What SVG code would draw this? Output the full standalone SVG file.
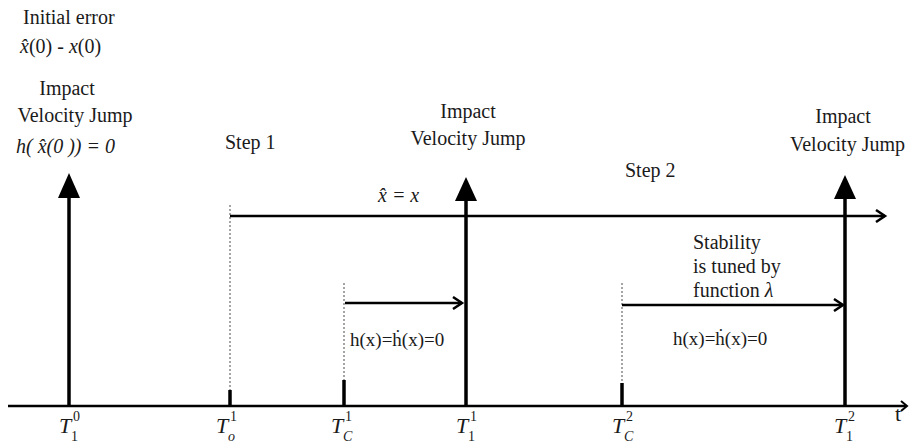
<svg xmlns="http://www.w3.org/2000/svg" width="910" height="443" viewBox="0 0 910 443" font-family="'Liberation Serif', 'Times New Roman', serif">
<defs>
<marker id="open" markerWidth="14" markerHeight="14" refX="11" refY="7" orient="auto" markerUnits="userSpaceOnUse">
<polyline points="2,1 11,7 2,13" fill="none" stroke="#000" stroke-width="2.5"/>
</marker>
</defs>
<style>
text{fill:#1a1a1a;font-size:20px}
.it{font-style:italic}
.c{text-anchor:middle}
.sm{font-size:19px}
.T{font-style:italic;font-size:22px}
.sup{font-size:14px;font-style:normal}
.axis{stroke:#000;stroke-width:2.5;fill:none}
.big{stroke:#000;stroke-width:3.5;fill:none}
.tick{stroke:#000;stroke-width:3.5}
.dash{stroke:#888;stroke-width:1.5;stroke-dasharray:2,2}
.h{stroke:#000;stroke-width:2.5;fill:none}
</style>

<g id="connectors">
<line class="axis" x1="8" y1="406" x2="906" y2="406"/>
<polyline points="901,401 907,406 901,411" fill="none" stroke="#000" stroke-width="2"/>
<line class="dash" x1="230" y1="205" x2="230" y2="390"/>
<line class="dash" x1="344" y1="283" x2="344" y2="380"/>
<line class="dash" x1="622" y1="283" x2="622" y2="383"/>
<line class="h" x1="230" y1="216" x2="885" y2="216" marker-end="url(#open)"/>
<line class="h" x1="345" y1="303" x2="462" y2="303" marker-end="url(#open)"/>
<line class="h" x1="622" y1="305" x2="843" y2="305" marker-end="url(#open)"/>
</g>

<g id="T10">
<line class="big" x1="69" y1="406" x2="69" y2="190"/>
<polygon points="69,173 80,198 58,198" fill="#000"/>
<text class="T" x="59" y="433">T</text>
<text class="sup" x="73" y="421">0</text>
<text class="sup" x="71" y="441">1</text>
</g>

<g id="To1">
<line class="tick" x1="230" y1="390" x2="230" y2="406"/>
<text class="T" x="216" y="433">T</text>
<text class="sup" x="230" y="421">1</text>
<text class="sup" x="228" y="441" style="font-style:italic">o</text>
</g>

<g id="Tc1">
<line class="tick" x1="344" y1="380" x2="344" y2="406"/>
<text class="T" x="331" y="433">T</text>
<text class="sup" x="345" y="421">1</text>
<text class="sup" x="343" y="441" style="font-style:italic">C</text>
</g>

<g id="T11">
<line class="big" x1="466" y1="406" x2="466" y2="194"/>
<polygon points="466,177 477,201 455,201" fill="#000"/>
<text class="T" x="456" y="433">T</text>
<text class="sup" x="470" y="421">1</text>
<text class="sup" x="468" y="441">1</text>
</g>

<g id="Tc2">
<line class="tick" x1="622" y1="383" x2="622" y2="406"/>
<text class="T" x="612" y="433">T</text>
<text class="sup" x="626" y="421">2</text>
<text class="sup" x="624" y="441" style="font-style:italic">C</text>
</g>

<g id="T12">
<line class="big" x1="845" y1="406" x2="845" y2="192"/>
<polygon points="845,175 856,199 834,199" fill="#000"/>
<text class="T" x="834" y="433">T</text>
<text class="sup" x="848" y="421">2</text>
<text class="sup" x="846" y="441">1</text>
</g>

<g id="labels">
<text x="23" y="24">Initial error</text>
<text x="20" y="53"><tspan class="it">x̂</tspan>(0) - <tspan class="it">x</tspan>(0)</text>
<text class="c" x="67" y="95">Impact</text>
<text class="c" x="75" y="122">Velocity Jump</text>
<text class="it" x="16" y="153">h( x̂(0 )) = 0</text>
<text x="225" y="149">Step 1</text>
<text class="c" x="468" y="118">Impact</text>
<text class="c" x="468" y="145">Velocity Jump</text>
<text class="it" x="378" y="202">x̂ = x</text>
<text x="625" y="177">Step 2</text>
<text class="c" x="843" y="123">Impact</text>
<text x="790" y="151">Velocity Jump</text>
<text x="693" y="249">Stability</text>
<text x="693" y="273">is tuned by</text>
<text x="693" y="297">function <tspan class="it">λ</tspan></text>
<text class="sm" x="350" y="346">h(x)=ḣ(x)=0</text>
<text class="sm" x="673" y="345">h(x)=ḣ(x)=0</text>
<text x="895" y="421" style="font-size:22px">t</text>
</g>
</svg>
